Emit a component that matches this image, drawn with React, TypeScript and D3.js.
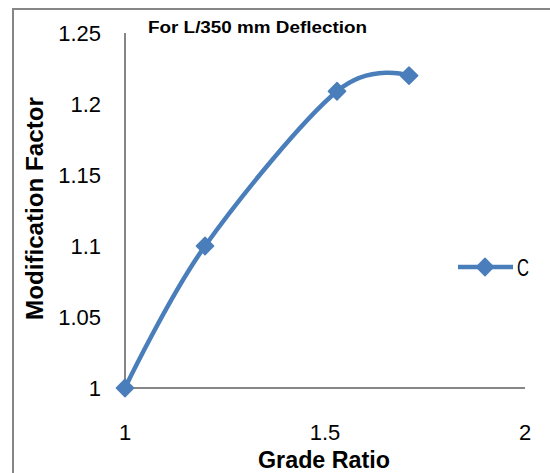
import React, { useEffect, useRef } from 'react'
import * as d3 from 'd3'

const gradeRatio = [1, 1.2, 1.53, 1.71]
const modFactor = [1, 1.1, 1.209, 1.22]
const xTicks = [1, 1.5, 2]
const yTicks = [1, 1.05, 1.1, 1.15, 1.2, 1.25]
const seriesName = 'C'
const chartTitle = 'For L/350 mm Deflection'

const W = 550
const H = 473
const FONT = '"Liberation Sans", Arial, sans-serif'
const BLUE = '#4a7ebb'
const GREY = '#868686'

const App = () => {
  const svgRef = useRef<SVGSVGElement>(null)

  useEffect(() => {
    const svg = d3.select(svgRef.current)
    svg.selectAll('*').remove()

    const x = d3.scaleLinear().domain([1, 2]).range([125, 525])
    const y = d3.scaleLinear().domain([1, 1.25]).range([388, 33])

    // outer chart border (only top/left visible)
    svg.append('rect')
      .attr('x', 13).attr('y', 9)
      .attr('width', W + 10).attr('height', H + 10)
      .attr('fill', 'none').attr('stroke', GREY).attr('stroke-width', 2)

    // axes
    svg.append('line')
      .attr('x1', x(1)).attr('x2', x(1))
      .attr('y1', y(1.25)).attr('y2', y(1))
      .attr('stroke', GREY).attr('stroke-width', 2)
    svg.append('line')
      .attr('x1', x(1)).attr('x2', x(2))
      .attr('y1', y(1)).attr('y2', y(1))
      .attr('stroke', GREY).attr('stroke-width', 2)

    svg.selectAll('.ytick')
      .data(yTicks)
      .enter()
      .append('text')
      .attr('x', 101)
      .attr('y', d => y(d))
      .attr('dy', '0.35em')
      .attr('text-anchor', 'end')
      .attr('font-family', FONT)
      .attr('font-size', 22)
      .text(d => String(+d.toFixed(2)))

    svg.selectAll('.xtick')
      .data(xTicks)
      .enter()
      .append('text')
      .attr('x', d => x(d))
      .attr('y', 432)
      .attr('dy', '0.35em')
      .attr('text-anchor', 'middle')
      .attr('font-family', FONT)
      .attr('font-size', 22)
      .text(d => String(d))

    // titles (squeezed to the narrow face of the original)
    svg.append('text')
      .attr('x', 148).attr('y', 33)
      .attr('font-family', FONT).attr('font-weight', 'bold').attr('font-size', 16)
      .attr('textLength', 219).attr('lengthAdjust', 'spacingAndGlyphs')
      .text(chartTitle)

    svg.append('text')
      .attr('x', 258).attr('y', 468)
      .attr('font-family', FONT).attr('font-weight', 'bold').attr('font-size', 24)
      .attr('textLength', 132).attr('lengthAdjust', 'spacingAndGlyphs')
      .text('Grade Ratio')

    svg.append('text')
      .attr('transform', 'translate(43,320) rotate(-90)')
      .attr('font-family', FONT).attr('font-weight', 'bold').attr('font-size', 24)
      .attr('textLength', 223).attr('lengthAdjust', 'spacingAndGlyphs')
      .text('Modification Factor')

    // series
    const pts = gradeRatio.map((g, i) => [g, modFactor[i]] as [number, number])
    const line = d3.line<[number, number]>()
      .x(d => x(d[0]))
      .y(d => y(d[1]))
      .curve(d3.curveCardinal.tension(0))

    svg.append('path')
      .attr('d', line(pts))
      .attr('fill', 'none')
      .attr('stroke', BLUE)
      .attr('stroke-width', 4.5)

    const diamond = d3.symbol().type(d3.symbolDiamond2).size(190)
    svg.selectAll('.pt')
      .data(pts)
      .enter()
      .append('path')
      .attr('d', diamond)
      .attr('transform', d => `translate(${x(d[0])},${y(d[1])})`)
      .attr('fill', BLUE)
      .attr('stroke', BLUE)
      .attr('stroke-width', 1.5)
      .attr('stroke-linejoin', 'round')

    // legend
    svg.append('line')
      .attr('x1', 458).attr('x2', 513)
      .attr('y1', 267).attr('y2', 267)
      .attr('stroke', BLUE).attr('stroke-width', 4.5)
    svg.append('path')
      .attr('d', diamond)
      .attr('transform', 'translate(485,267)')
      .attr('fill', BLUE)
      .attr('stroke', BLUE)
      .attr('stroke-width', 1.5)
      .attr('stroke-linejoin', 'round')
    svg.append('text')
      .attr('x', 517).attr('y', 268)
      .attr('dy', '0.35em')
      .attr('font-family', FONT).attr('font-size', 23)
      .attr('textLength', 12).attr('lengthAdjust', 'spacingAndGlyphs')
      .text(seriesName)
  }, [])

  return (
    <svg
      ref={svgRef}
      width={W}
      height={H}
      style={{ position: 'absolute', left: 0, top: 0, background: '#fff' }}
    />
  )
}

export default App
